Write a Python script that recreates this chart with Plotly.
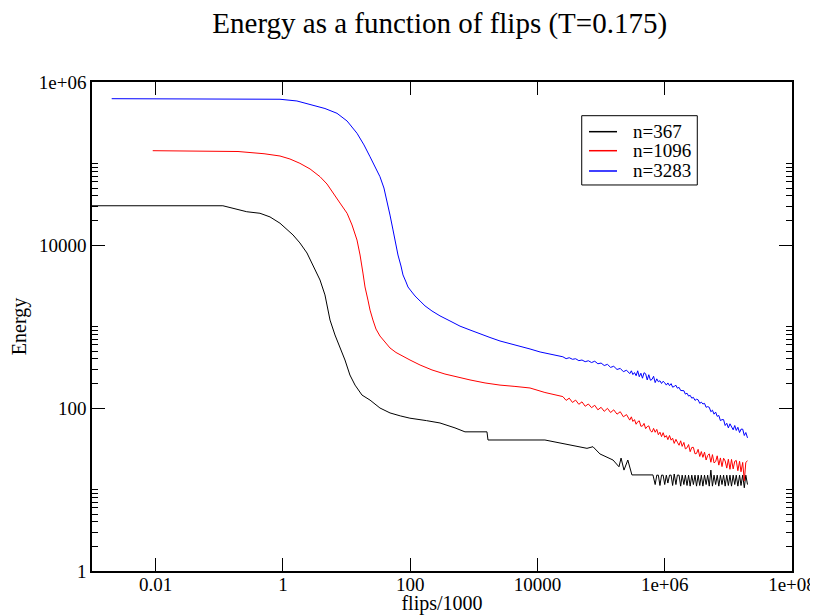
import plotly.graph_objects as go

# ---- data (flips/1000 vs energy) ----
# shared sampling of the long-time tail (flips/1000)
tail_flips = [2.51e4, 2.82e4, 3.16e4, 3.55e4, 3.98e4, 4.47e4, 5.01e4, 5.62e4, 6.31e4, 7.08e4,
              7.94e4, 8.91e4, 1.00e5, 1.12e5, 1.26e5, 1.41e5, 1.58e5, 1.78e5, 2.00e5, 2.24e5,
              2.51e5, 2.82e5,
              2.99e5, 3.16e5, 3.35e5, 3.55e5, 3.76e5, 3.98e5, 4.22e5, 4.47e5, 4.73e5, 5.01e5,
              5.31e5, 5.62e5, 5.96e5, 6.31e5, 6.68e5, 7.08e5, 7.50e5, 7.94e5, 8.41e5, 8.91e5,
              9.44e5, 1.00e6,
              1.06e6, 1.12e6, 1.19e6, 1.26e6, 1.33e6, 1.41e6, 1.50e6, 1.58e6, 1.68e6, 1.78e6,
              1.88e6, 2.00e6, 2.11e6, 2.24e6, 2.37e6, 2.51e6, 2.66e6, 2.82e6, 2.99e6, 3.16e6,
              3.35e6, 3.55e6, 3.76e6, 3.98e6, 4.22e6, 4.47e6, 4.73e6, 5.01e6, 5.31e6, 5.62e6,
              5.96e6, 6.31e6, 6.68e6, 7.08e6, 7.50e6, 7.94e6, 8.41e6, 8.91e6, 9.44e6, 1.00e7,
              1.06e7, 1.12e7, 1.19e7, 1.26e7, 1.33e7, 1.41e7, 1.50e7, 1.58e7, 1.68e7, 1.78e7,
              1.88e7, 2.00e7]
BLACK_TAIL_START = 37  # index in tail_flips where the n=367 tail begins (7.08e5)

# n=367 (black)
n367_flips = [0.001, 0.114, 0.27, 0.436, 0.627, 0.90, 1.44, 1.85, 2.39, 2.97, 3.83, 4.58, 5.50,
              6.58, 7.89, 9.45, 11.3, 13.6, 17.5, 23.4, 33.5, 48.2, 70, 99, 180, 294, 506, 726,
              1610, 1670, 13100, 22600, 60000, 74500, 96000, 154000, 191000, 206000, 229000,
              263000, 305000, 653000]
n367_energy = [30300, 30300, 25600, 24500, 22100, 18500, 13300, 10600, 7980, 5690, 3720, 2440,
               1200, 787, 545, 388, 254, 191, 144, 125, 100, 87, 80, 75, 70, 65.5, 57, 51,
               51, 40.5, 40.5, 37.5, 32, 33.5, 27.3, 23, 19, 24.3, 17.3,
               23, 15.1, 15.1]
n367_tail = [11.5, 15, 15, 11.2, 15, 15, 11.5, 15, 12, 15, 15, 11.2, 15.5, 11.5, 15, 15, 11,
             15, 11.5, 15, 11.2, 15, 11, 15, 11.5, 15, 11, 15, 11.2, 15, 11, 15, 11.5, 15, 11,
             17.3, 11, 15, 11.5, 15, 11, 15, 11.5, 15, 11, 15, 11.2, 15, 11, 15, 11.5, 15, 11,
             15, 11.2, 15, 10.5, 15, 11.5]

# n=1096 (red)
n1096_flips = [0.0090, 0.0498, 0.197, 0.505, 0.90, 1.29, 1.85, 2.67, 3.83, 4.93, 6.12, 7.89,
               10.2, 12.2, 14.6, 16.3, 18.1, 19.5, 21.7, 23.4, 26.0, 29.0, 33.5, 40.2, 48.2,
               59.8, 74.3, 99.3, 143, 220, 352, 544, 871, 1500, 2580, 4430, 7640, 13100]
n1096_energy = [143600, 142200, 140300, 131800, 123600, 113600, 100500, 85700, 68900, 56000,
                43100, 32700, 24500, 17600, 11500, 7540, 4530, 3055, 2110, 1590, 1200, 931,
                764, 645, 545, 480, 434, 388, 337, 293, 261, 240, 221, 203, 191, 184, 176, 155]
n1096_tail = [138, 124, 132, 117, 125, 111, 119, 105, 112, 101, 108, 95, 102, 91, 99, 88, 95,
              84, 90, 78, 83, 71,
              77.9, 68.4, 72.1, 63.2, 67.8, 69.6, 59.7, 60.1, 64.7, 55.8, 59.1, 60.4, 52.6,
              50.6, 56.2, 50.4, 54.6, 47, 50.5, 44.6, 49.8, 43.7,
              45.9, 40.9, 46, 40.3, 42.6, 36.8, 41.3, 38, 34.9, 39.6, 33.8, 37.8, 31.5, 32.5,
              35.6, 29.1, 32.8, 32.9, 27.4, 27.7, 31.1, 25.4, 29.2, 24.8, 28.7, 23, 26.1, 27.4,
              21.6, 26.8, 21.2, 22, 25.9, 19.9, 24.4, 19.1, 24.2, 22.4, 18.3, 23.5,
              17.7, 23.4, 17.9, 22.2, 22.7, 17, 22.2, 16.5, 21.5, 12.8, 21.5, 22.5]

# n=3283 (blue)
n3283_flips = [0.00204, 0.0498, 0.436, 0.90, 1.66, 2.97, 4.58, 7.08, 10.2, 14.6, 18.8, 23.4,
               28.0, 33.5, 38.7, 43.2, 48.2, 53.7, 59.8, 64.3, 71.7, 77.1, 86.0, 92.3, 103,
               119, 143, 171, 220, 294, 422, 607, 871, 1250, 1795, 2580, 3700, 5310, 7640,
               11000]
n3283_energy = [624000, 622000, 618000, 614000, 585000, 522000, 473000, 413000, 332000,
                235000, 169000, 121000, 93000, 68900, 50000, 35600, 23300, 15300, 10000, 7540,
                5520, 4290, 3520, 3055, 2730, 2370, 2055, 1790, 1550, 1350, 1170, 1010, 906,
                809, 733, 664, 619, 577, 530, 487]
n3283_tail = [425, 403, 414, 396, 402, 381, 388, 370, 380, 361, 375, 349, 356, 332, 343, 315,
              325, 297, 306, 279, 291, 264,
              286, 257, 272, 249, 286, 242, 267, 232, 271, 263, 221, 256, 219, 224, 245, 205,
              228, 210, 216, 200, 213, 204,
              191, 203, 188, 199, 180, 184, 190, 175, 179, 164, 165, 163, 148, 152, 140, 143,
              132, 135, 124, 128, 126, 114, 118, 112, 114, 102, 104, 102, 90, 94, 84, 89, 79,
              81, 70, 72, 72, 61, 65, 57,
              64, 60, 54, 61, 53, 58, 50, 55, 55, 46, 50, 43]

series_names = ["n=367", "n=1096", "n=3283"]
series_colors = ["#000000", "#ff0000", "#0000ff"]

x_tickvals = [0.01, 1, 100, 1e4, 1e6, 1e8]
x_ticktext = ["0.01", "1", "100", "10000", "1e+06", "1e+08"]
y_tickvals = [1, 100, 1e4, 1e6]
y_ticktext = ["1", "100", "10000", "1e+06"]
y_minor = [m * d for d in (1, 100, 10000) for m in (2, 3, 4, 5, 6, 7, 8, 9, 10)]

FONT = "Liberation Serif"

xs = [n367_flips + tail_flips[BLACK_TAIL_START:], n1096_flips + tail_flips,
      n3283_flips + tail_flips]
ys = [n367_energy + n367_tail, n1096_energy + n1096_tail, n3283_energy + n3283_tail]

fig = go.Figure()
for x, y, name, col in zip(xs, ys, series_names, series_colors):
    fig.add_trace(go.Scatter(x=x, y=y, mode="lines", name=name, showlegend=False,
                             line=dict(color=col, width=1)))

# ---- legend box (Grace style: compact rows, framed) ----
leg_x0, leg_x1, leg_y0, leg_y1 = 0.6996, 0.8647, 0.7894, 0.9311
leg_rows = [0.8984, 0.8595, 0.8180]
fig.add_shape(type="rect", xref="paper", yref="paper", x0=leg_x0, x1=leg_x1,
              y0=leg_y0, y1=leg_y1, line=dict(color="black", width=1),
              fillcolor="white", layer="above")
for name, col, ry in zip(series_names, series_colors, leg_rows):
    fig.add_shape(type="line", xref="paper", yref="paper", x0=0.710, x1=0.750, y0=ry, y1=ry,
                  line=dict(color=col, width=1.5), layer="above")
    fig.add_annotation(xref="paper", yref="paper", x=0.770, y=ry, xanchor="left",
                       yanchor="middle", text=name, showarrow=False,
                       font=dict(family=FONT, size=19, color="black"))

axis_common = dict(
    type="log", showgrid=False, zeroline=False, showline=True, linecolor="black",
    linewidth=1.5, ticks="inside", ticklen=13, tickwidth=1, tickcolor="black",
    mirror="ticks", automargin=False,
    tickfont=dict(family=FONT, size=19, color="black"),
)

# the page body adds an 8px offset, so the figure is 8px smaller and margins shifted
fig.update_layout(
    width=810, height=607,
    margin=dict(l=84, r=26, t=74, b=44, autoexpand=False),
    paper_bgcolor="white", plot_bgcolor="white",
    title=dict(text="Energy as a function of flips (T=0.175)", x=0.533, xanchor="center",
               y=0.975, yanchor="middle",
               font=dict(family=FONT, size=29, color="black")),
    xaxis=dict(range=[-3, 8], tickmode="array", tickvals=x_tickvals, ticktext=x_ticktext,
               ticklabelstandoff=-5,
               title=dict(text="flips/1000", font=dict(family=FONT, size=20, color="black"),
                          standoff=5),
               **axis_common),
    yaxis=dict(range=[0, 6], tickmode="array", tickvals=y_tickvals, ticktext=y_ticktext,
               title=dict(text="Energy", font=dict(family=FONT, size=20, color="black"),
                          standoff=10),
               minor=dict(tickmode="array", tickvals=y_minor, ticks="inside", ticklen=6,
                          tickwidth=1, tickcolor="black"),
               **axis_common),
    showlegend=False,
)

fig.write_html("out.html")
